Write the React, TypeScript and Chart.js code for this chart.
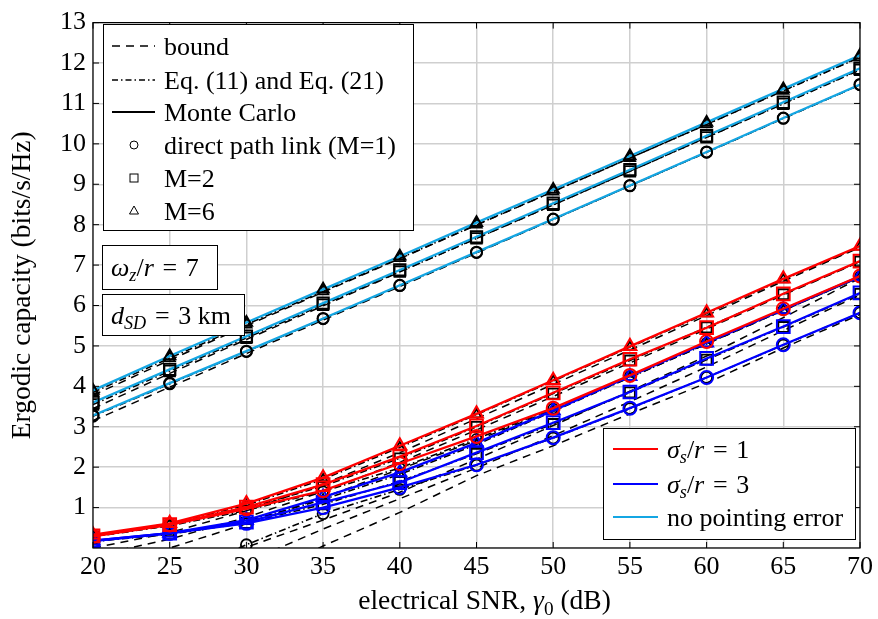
import React, { useEffect, useRef } from "react";
import { Chart, registerables } from "chart.js";
Chart.register(...registerables);

const snr = [20, 25, 30, 35, 40, 45, 50, 55, 60, 65, 70];
const yTickValues = [1, 2, 3, 4, 5, 6, 7, 8, 9, 10, 11, 12, 13];

// no pointing error (Monte Carlo)
const npM6 = [3.9, 4.75, 5.58, 6.4, 7.22, 8.05, 8.87, 9.7, 10.53, 11.36, 12.19];
const npM2 = [3.6, 4.42, 5.24, 6.06, 6.88, 7.7, 8.53, 9.36, 10.2, 11.03, 11.87];
const npM1 = [3.28, 4.08, 4.87, 5.68, 6.5, 7.32, 8.14, 8.97, 9.8, 10.64, 11.47];
// no pointing error (Eq.)
const npM6Eq = [3.85, 4.7, 5.53, 6.35, 7.17, 8.0, 8.82, 9.65, 10.48, 11.31, 12.14];
const npM2Eq = [3.55, 4.38, 5.2, 6.02, 6.84, 7.66, 8.49, 9.32, 10.16, 10.99, 11.83];
const npM1Eq = [3.26, 4.06, 4.86, 5.67, 6.49, 7.31, 8.13, 8.96, 9.79, 10.63, 11.46];
// no pointing error (bound)
const npM6B = [3.78, 4.65, 5.5, 6.33, 7.16, 7.99, 8.82, 9.65, 10.48, 11.32, 12.15];
const npM2B = [3.45, 4.32, 5.16, 5.99, 6.83, 7.66, 8.49, 9.32, 10.16, 11.0, 11.84];
const npM1B = [3.15, 3.98, 4.81, 5.64, 6.47, 7.3, 8.13, 8.96, 9.79, 10.63, 11.46];

// sigma_s/r = 1 (Monte Carlo)
const r1M6 = [0.33, 0.61, 1.1, 1.74, 2.53, 3.32, 4.15, 4.99, 5.82, 6.66, 7.47];
const r1M2 = [0.3, 0.58, 1.01, 1.57, 2.26, 3.02, 3.84, 4.67, 5.45, 6.29, 7.1];
const r1M1 = [0.29, 0.57, 0.97, 1.42, 2.09, 2.76, 3.46, 4.27, 5.11, 5.92, 6.73];
// sigma_s/r = 1 (Eq.)
const r1M6Eq = [0.31, 0.6, 1.06, 1.7, 2.49, 3.3, 4.13, 4.97, 5.8, 6.64, 7.45];
const r1M2Eq = [0.29, 0.56, 0.98, 1.53, 2.22, 3.0, 3.82, 4.64, 5.46, 6.28, 7.09];
const r1M1Eq = [0.28, 0.55, 0.93, 1.4, 1.98, 2.7, 3.45, 4.26, 5.08, 5.9, 6.72];
// sigma_s/r = 1 (bound)
const r1M6B = [0.0, 0.38, 0.92, 1.58, 2.36, 3.2, 4.05, 4.9, 5.75, 6.6, 7.44];
const r1M2B = [-0.2, 0.22, 0.76, 1.4, 2.12, 2.92, 3.75, 4.58, 5.42, 6.26, 7.08];
const r1M1B = [-0.7, 0.0, 0.6, 1.25, 1.95, 2.66, 3.42, 4.22, 5.05, 5.88, 6.7];

// sigma_s/r = 3 (Monte Carlo)
const b3M6 = [0.18, 0.37, 0.69, 1.26, 1.87, 2.6, 3.4, 4.25, 5.08, 5.9, 6.72];
const b3M2 = [0.18, 0.37, 0.64, 1.13, 1.62, 2.36, 3.1, 3.86, 4.69, 5.48, 6.31];
const b3M1 = [0.17, 0.36, 0.61, 1.0, 1.5, 2.06, 2.73, 3.46, 4.22, 5.03, 5.82];
// sigma_s/r = 3 (Eq.)
const b3M6Eq = [0.17, 0.36, 0.66, 1.2, 1.82, 2.56, 3.38, 4.22, 5.05, 5.88, 6.7];
const b3M2Eq = [0.16, 0.34, 0.62, 1.08, 1.65, 2.33, 3.07, 3.85, 4.66, 5.47, 6.29];
const b3M1Eq = [-1.6, -0.75, 0.08, 0.85, 1.45, 2.05, 2.72, 3.45, 4.22, 5.02, 5.82];
// sigma_s/r = 3 (bound)
const b3M6B = [-1.4, -0.6, 0.02, 0.69, 1.38, 2.2, 3.03, 3.88, 4.75, 5.7, 6.68];
const b3M2B = [-2.0, -1.0, -0.35, 0.47, 1.22, 1.98, 2.78, 3.62, 4.48, 5.38, 6.26];
const b3M1B = [-2.8, -1.9, -0.85, 0.05, 0.88, 1.79, 2.53, 3.32, 4.08, 4.95, 5.78];

const RED = "#ff0000";
const BLUE = "#0000ff";
const CYAN = "#14a6e3";
const FONT = "'Liberation Serif', 'Times New Roman', serif";
const FS = 26;
const TFS = 27.5;

type Part = { t: string; i?: boolean; sub?: boolean };

function richWidth(ctx: CanvasRenderingContext2D, parts: Part[], size: number) {
  let w = 0;
  for (const p of parts) {
    const s = p.sub ? size * 0.7 : size;
    ctx.font = `${p.i ? "italic " : ""}${s}px ${FONT}`;
    w += ctx.measureText(p.t).width;
  }
  return w;
}

function drawRich(ctx: CanvasRenderingContext2D, x: number, y: number, parts: Part[], size: number) {
  let cx = x;
  ctx.textBaseline = "alphabetic";
  ctx.textAlign = "left";
  for (const p of parts) {
    const s = p.sub ? size * 0.7 : size;
    ctx.font = `${p.i ? "italic " : ""}${s}px ${FONT}`;
    ctx.fillText(p.t, cx, p.sub ? y + size * 0.2 : y);
    cx += ctx.measureText(p.t).width;
  }
}

const pts = (arr: number[]) => snr.map((x, i) => ({ x, y: arr[i] }));

function mc(data: number[], color: string, style: string, radius: number, pBorder?: string) {
  return {
    data: pts(data),
    borderColor: color,
    borderWidth: 2.3,
    pointStyle: style,
    pointRadius: radius,
    pointBorderWidth: 2,
    pointBorderColor: pBorder || color,
    pointBackgroundColor: "rgba(0,0,0,0)",
    fill: false,
    tension: 0,
  };
}
function eq(data: number[], style: string, radius: number) {
  return {
    data: pts(data),
    borderColor: "#000",
    borderWidth: 1.6,
    borderDash: [7, 3, 1.5, 3],
    pointStyle: style,
    pointRadius: radius,
    pointBorderWidth: 1.8,
    pointBorderColor: "#000",
    pointBackgroundColor: "rgba(0,0,0,0)",
    fill: false,
    tension: 0,
  };
}
function bound(data: number[]) {
  return {
    data: pts(data),
    borderColor: "#000",
    borderWidth: 1.5,
    borderDash: [8, 6],
    pointRadius: 0,
    fill: false,
    tension: 0,
  };
}

const EQS = "\u2004=\u2004";

const overlayPlugin = {
  id: "overlay",
  afterDatasetsDraw(chart: any) {
    const ctx: CanvasRenderingContext2D = chart.ctx;
    const a = chart.chartArea;
    const xs = chart.scales.x;
    const ys = chart.scales.y;
    ctx.save();
    ctx.strokeStyle = "#000";
    ctx.lineWidth = 1.2;
    ctx.strokeRect(a.left, a.top, a.right - a.left, a.bottom - a.top);
    ctx.lineWidth = 1;
    const tl = 6;
    for (const v of snr) {
      const px = xs.getPixelForValue(v);
      ctx.beginPath();
      ctx.moveTo(px, a.bottom);
      ctx.lineTo(px, a.bottom - tl);
      ctx.moveTo(px, a.top);
      ctx.lineTo(px, a.top + tl);
      ctx.stroke();
    }
    for (const v of yTickValues) {
      const py = ys.getPixelForValue(v);
      ctx.beginPath();
      ctx.moveTo(a.left, py);
      ctx.lineTo(a.left + tl, py);
      ctx.moveTo(a.right, py);
      ctx.lineTo(a.right - tl, py);
      ctx.stroke();
    }
    ctx.restore();
  },
  afterDraw(chart: any) {
    const ctx: CanvasRenderingContext2D = chart.ctx;
    const a = chart.chartArea;
    ctx.save();
    ctx.fillStyle = "#000";

    const xt: Part[] = [
      { t: "electrical SNR, " },
      { t: "γ", i: true },
      { t: "0", sub: true },
      { t: " (dB)" },
    ];
    const xw = richWidth(ctx, xt, TFS);
    drawRich(ctx, (a.left + a.right) / 2 - xw / 2 + 8, 609, xt, TFS);

    ctx.save();
    ctx.translate(30, (a.top + a.bottom) / 2);
    ctx.rotate(-Math.PI / 2);
    ctx.font = `${TFS}px ${FONT}`;
    ctx.textAlign = "center";
    ctx.textBaseline = "alphabetic";
    ctx.fillText("Ergodic capacity (bits/s/Hz)", 0, 0);
    ctx.restore();

    const box = (x: number, y: number, w: number, h: number) => {
      ctx.fillStyle = "#fff";
      ctx.fillRect(x, y, w, h);
      ctx.strokeStyle = "#000";
      ctx.lineWidth = 1;
      ctx.setLineDash([]);
      ctx.strokeRect(x + 0.5, y + 0.5, w, h);
      ctx.fillStyle = "#000";
    };
    box(103, 24, 310, 206);
    const rows = [46, 80, 112, 145, 178, 211];
    const lx0 = 112, lx1 = 155, tx = 164;
    const sample = (y: number, dash: number[], color = "#000", width = 1.5) => {
      ctx.beginPath();
      ctx.setLineDash(dash);
      ctx.strokeStyle = color;
      ctx.lineWidth = width;
      ctx.moveTo(lx0, y);
      ctx.lineTo(lx1, y);
      ctx.stroke();
      ctx.setLineDash([]);
    };
    sample(rows[0], [8, 6]);
    sample(rows[1], [6, 3, 1.5, 3]);
    sample(rows[2], [], "#000", 1.8);
    ctx.strokeStyle = "#000";
    ctx.lineWidth = 1;
    const mx = 134;
    ctx.beginPath();
    ctx.arc(mx, rows[3], 4, 0, Math.PI * 2);
    ctx.stroke();
    ctx.strokeRect(mx - 4, rows[4] - 4, 8, 8);
    ctx.beginPath();
    ctx.moveTo(mx, rows[5] - 5);
    ctx.lineTo(mx + 4.5, rows[5] + 3);
    ctx.lineTo(mx - 4.5, rows[5] + 3);
    ctx.closePath();
    ctx.stroke();
    const labels1 = ["bound", "Eq. (11) and Eq. (21)", "Monte Carlo", "direct path link (M=1)", "M=2", "M=6"];
    ctx.font = `${FS}px ${FONT}`;
    ctx.textBaseline = "alphabetic";
    labels1.forEach((l, i) => {
      ctx.fillText(l, tx, rows[i] + 9);
    });

    box(102, 245, 115, 44);
    drawRich(ctx, 111, 276, [
      { t: "ω", i: true },
      { t: "z", i: true, sub: true },
      { t: "/" },
      { t: "r", i: true },
      { t: EQS + "7" },
    ], FS);
    box(102, 294, 142, 41);
    drawRich(ctx, 111, 324, [
      { t: "d", i: true },
      { t: "SD", i: true, sub: true },
      { t: EQS + "3 km" },
    ], FS);

    box(603, 428, 252, 111);
    const rows2 = [449, 484, 517];
    const cols = [RED, BLUE, CYAN];
    rows2.forEach((y, i) => {
      ctx.beginPath();
      ctx.strokeStyle = cols[i];
      ctx.lineWidth = 2;
      ctx.moveTo(613, y);
      ctx.lineTo(658, y);
      ctx.stroke();
    });
    ctx.fillStyle = "#000";
    drawRich(ctx, 667, rows2[0] + 9, [
      { t: "σ", i: true },
      { t: "s", i: true, sub: true },
      { t: "/" },
      { t: "r", i: true },
      { t: EQS + "1" },
    ], FS);
    drawRich(ctx, 667, rows2[1] + 9, [
      { t: "σ", i: true },
      { t: "s", i: true, sub: true },
      { t: "/" },
      { t: "r", i: true },
      { t: EQS + "3" },
    ], FS);
    drawRich(ctx, 667, rows2[2] + 9, [{ t: "no pointing error" }], FS);
    ctx.restore();
  },
};

export default function App() {
  const ref = useRef<HTMLCanvasElement | null>(null);
  useEffect(() => {
    document.body.style.margin = "0";
    const canvas = ref.current!;
    const datasets: any[] = [
      mc(npM6, CYAN, "triangle", 6.5, "#000"),
      mc(npM2, CYAN, "rect", 8, "#000"),
      mc(npM1, CYAN, "circle", 5.5, "#000"),
      mc(r1M6, RED, "triangle", 7.5),
      mc(r1M2, RED, "rect", 9),
      mc(r1M1, RED, "circle", 6.5),
      mc(b3M6, BLUE, "triangle", 7.5),
      mc(b3M2, BLUE, "rect", 9),
      mc(b3M1, BLUE, "circle", 6.5),
      eq(npM6Eq, "triangle", 6),
      eq(npM2Eq, "rect", 7.5),
      eq(npM1Eq, "circle", 5.5),
      eq(r1M6Eq, "triangle", 5.5),
      eq(r1M2Eq, "rect", 7),
      eq(r1M1Eq, "circle", 5),
      eq(b3M6Eq, "triangle", 5.5),
      eq(b3M2Eq, "rect", 7),
      eq(b3M1Eq, "circle", 5.5),
      bound(npM6B),
      bound(npM2B),
      bound(npM1B),
      bound(r1M6B),
      bound(r1M2B),
      bound(r1M1B),
      bound(b3M6B),
      bound(b3M2B),
      bound(b3M1B),
    ];
    const chart = new Chart(canvas, {
      type: "line",
      data: { datasets },
      options: {
        animation: false,
        responsive: false,
        maintainAspectRatio: false,
        layout: { padding: { top: 19, right: 18, left: 0, bottom: 0 } },
        plugins: { legend: { display: false }, tooltip: { enabled: false } },
        scales: {
          x: {
            type: "linear",
            min: 20,
            max: 70,
            afterFit: (s: any) => {
              s.height = 71;
            },
            afterBuildTicks: (s: any) => {
              s.ticks = snr.map((v) => ({ value: v }));
            },
            ticks: {
              font: { family: FONT, size: FS },
              color: "#000",
              padding: 4,
              maxRotation: 0,
              autoSkip: false,
            },
            grid: { color: "#cfcfcf", lineWidth: 1.5, drawTicks: false },
            border: { display: false },
          },
          y: {
            type: "linear",
            min: 0,
            max: 13,
            afterFit: (s: any) => {
              s.width = 93;
            },
            afterBuildTicks: (s: any) => {
              s.ticks = [0, ...yTickValues].map((v) => ({ value: v }));
            },
            ticks: {
              font: { family: FONT, size: FS },
              color: "#000",
              padding: 7,
              autoSkip: false,
              callback: (v: any) => (v === 0 ? "" : String(v)),
            },
            grid: { color: "#cfcfcf", lineWidth: 1.5, drawTicks: false },
            border: { display: false },
          },
        },
      },
      plugins: [overlayPlugin],
    });
    return () => chart.destroy();
  }, []);
  return (
    <div style={{ width: 878, height: 619, background: "#fff" }}>
      <canvas ref={ref} width={878} height={619} style={{ display: "block" }} />
    </div>
  );
}
